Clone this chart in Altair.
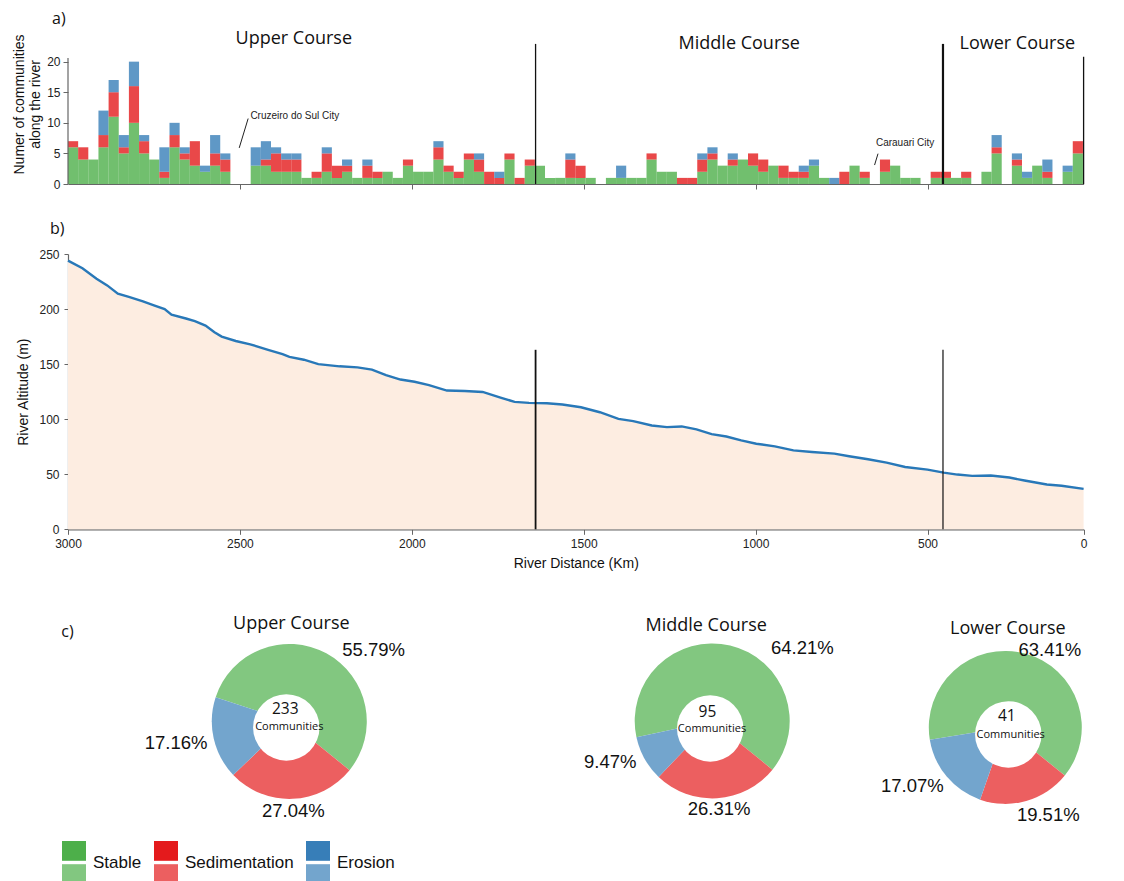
import math
import altair as alt
import pandas as pd

# ---------------- data ----------------
CATEGORIES = ["Stable", "Sedimentation", "Erosion"]
SET1 = ["#4daf4a", "#e41a1c", "#377eb8"]
PIE_COLORS = ["#82c780", "#ec5f60", "#73a5cd"]

# a) communities per 100 bins along the river (upstream -> downstream)
STABLE_COUNTS = [6, 4, 4, 6, 11, 5, 10, 5, 4, 1, 6, 4, 3, 2, 3, 2, 0, 0, 3, 3,
                 2, 2, 2, 1, 1, 2, 1, 2, 1, 1, 1, 2, 1, 3, 2, 2, 4, 2, 1, 4,
                 2, 0, 0, 4, 0, 3, 3, 1, 1, 1, 1, 1, 0, 1, 1, 1, 1, 4, 2, 2,
                 0, 0, 2, 4, 3, 3, 4, 3, 2, 3, 1, 1, 1, 3, 1, 0, 0, 3, 1, 0,
                 2, 3, 1, 1, 0, 1, 1, 1, 1, 0, 2, 5, 0, 3, 1, 3, 1, 0, 2, 5]
SEDIMENTATION_COUNTS = [1, 2, 0, 2, 4, 1, 6, 2, 0, 1, 2, 1, 4, 0, 2, 2, 0, 0, 0, 1,
                        3, 2, 2, 0, 1, 3, 2, 1, 0, 2, 1, 0, 0, 1, 0, 0, 2, 1, 1, 1,
                        2, 2, 1, 1, 1, 1, 0, 0, 0, 3, 2, 0, 0, 0, 0, 0, 0, 1, 0, 0,
                        1, 1, 2, 1, 0, 1, 0, 2, 2, 0, 2, 1, 1, 0, 0, 0, 2, 0, 1, 0,
                        2, 0, 0, 0, 0, 1, 1, 0, 1, 0, 0, 1, 0, 1, 0, 0, 1, 0, 0, 2]
EROSION_COUNTS = [0, 0, 0, 4, 2, 2, 4, 1, 0, 4, 2, 1, 0, 1, 3, 1, 0, 0, 3, 3,
                  1, 1, 1, 0, 0, 1, 0, 1, 0, 1, 0, 0, 0, 0, 0, 0, 1, 0, 0, 0,
                  1, 0, 1, 0, 0, 0, 0, 0, 0, 1, 0, 0, 0, 0, 2, 0, 0, 0, 0, 0,
                  0, 0, 1, 1, 0, 1, 0, 0, 0, 0, 0, 0, 1, 1, 0, 1, 0, 0, 0, 0,
                  0, 0, 0, 0, 0, 0, 0, 0, 0, 0, 0, 2, 0, 1, 1, 0, 2, 0, 1, 0]
BIN_FROM_KM = 3000
BIN_TO_KM = 48
X_DOMAIN = [3000, 46]

# b) longitudinal profile
RIVER_KM = [3000, 2958, 2917, 2886, 2855, 2823, 2782, 2750, 2719, 2699, 2657, 2631,
            2600, 2574, 2553, 2512, 2470, 2418, 2376, 2356, 2314, 2272, 2210, 2158,
            2116, 2075, 2033, 1992, 1950, 1898, 1846, 1794, 1742, 1701, 1659, 1607,
            1562, 1508, 1453, 1399, 1356, 1302, 1258, 1215, 1172, 1128, 1085, 1042,
            998, 944, 890, 836, 771, 728, 673, 619, 565, 500, 453, 413, 370, 316,
            262, 218, 153, 110, 46]
RIVER_ALT = [244, 237, 227.5, 221.5, 214, 211, 207, 203.4, 200, 195, 191.4, 189,
             185, 179, 175, 171, 168, 163, 159, 156.5, 154, 150, 148, 147,
             145, 140, 136, 134, 131, 126, 125.6, 124.7, 119.6, 115.7, 114.8, 114.5,
             113.3, 110.8, 106.3, 100.3, 98.2, 94.3, 92.8, 93.4, 90.7, 86.4, 84.3, 80.7,
             77.7, 75.3, 71.7, 70.2, 68.7, 66.3, 63.6, 60.5, 56.6, 54.2, 51.5, 49.7, 48.5, 48.8,
             47, 44.3, 40.7, 39.5, 36.7]

COURSES = ["Upper Course", "Middle Course", "Lower Course"]
COURSE_LIMITS_KM = [3000, 1640, 455, 46]

CITIES = ["Cruzeiro do Sul City", "Carauari City"]
CITY_KM = [2502, 654]

# c) share of communities per course
COMMUNITIES = [233, 95, 41]
PCT_STABLE = [55.79, 64.21, 63.41]
PCT_SEDIMENTATION = [27.04, 26.31, 19.51]
PCT_EROSION = [17.16, 9.47, 17.07]

PANEL_TAGS = ["a)", "b)", "c)"]

# ---------------- layout ----------------
PLOT_W = 1015.6
A_H = 150
B_H = 275.3
GAP = 70
PIE_W = [442.6, 402.4, 182.6]
PIE_H = [242.8, 241.8, 254.8]
OUTER_R = [77.5, 77.5, 76.5]
HOLE_R = 37.5
HOLE_SHIFT = [(-3, 6), (-2, 7.5), (3, 7)]
TITLE_NUDGE = [(2, -97.4), (-6, -95.2), (2.5, -98.4)]
NUM_NUDGE = [(-4, -12), (-4.8, -9), (1.5, -11)]
COMM_NUDGE = [(0, 6), (-0.2, 8), (5.4, 7.3)]
LABEL_R = 100
LABEL_NUDGE = [
    {"Stable": (36.6, 16.2), "Sedimentation": (0, -9.9), "Erosion": (-15.7, -0.5)},
    {"Stable": (67, 24.8), "Sedimentation": (0.5, -11.8), "Erosion": (-14.7, -7.3)},
    {"Stable": (19, 19.5), "Sedimentation": (15.6, -8.9), "Erosion": (-16.4, -5.3)},
]
PIE_START = math.radians(129)
COURSE_LABEL = [(-8, 23.65), (0, 22.85), (4, 22.85)]
CITY_LEADER = {
    "Cruzeiro do Sul City": dict(y0=5.9, dkm=-26, y1=10.7, tdkm=-32.5, ty=11.17),
    "Carauari City": dict(y0=3.1, dkm=-10, y1=4.96, tdkm=-4, ty=6.64),
}
TAG_A = dict(y=26.15, dx=-16)     # data units above the plot, pixel nudge
TAG_B = dict(y=268.2, dx=-18)
TAG_C = dict(dx=-228, dy=-84)

TEXT_FONT = "Open Sans"
NUM_FONT = "Liberation Sans"

legend_common = dict(orient="none", direction="horizontal", title=None, symbolSize=576,
                     symbolStrokeWidth=0, symbolOpacity=1, labelFont=NUM_FONT,
                     labelFontSize=17, labelColor="#111", labelOffset=7,
                     columnPadding=12, padding=0, legendX=-6)
LEG_DARK = alt.Legend(symbolType="M-1,-1.75H1V-0.1H-1Z", labelOpacity=0,
                      legendY=816, **legend_common)
LEG_LIGHT = alt.Legend(symbolType="M-1,0.1H1V1.75H-1Z", legendY=251, **legend_common)

# ---------------- panel a ----------------
n_bins = len(STABLE_COUNTS)
bw = (BIN_FROM_KM - BIN_TO_KM) / n_bins
rows = []
for i in range(n_bins):
    for k, (cat, arr) in enumerate(zip(CATEGORIES, [STABLE_COUNTS, SEDIMENTATION_COUNTS, EROSION_COUNTS])):
        if arr[i] > 0:
            rows.append({"bin": i, "cat": cat, "k": k, "n": arr[i],
                         "km0": BIN_FROM_KM - i * bw, "km1": BIN_FROM_KM - (i + 1) * bw})
bars_df = pd.DataFrame(rows)

xs_a = alt.Scale(domain=X_DOMAIN, nice=False, zero=False)
ys_a = alt.Scale(domain=[0, 24.52], nice=False)
ax_a = alt.Axis(values=[2500, 2000, 1500, 1000, 500], labels=False, tickSize=5,
                title=None, grid=False)
ay_a = alt.Axis(values=[0, 5, 10, 15, 20], domain=False, tickSize=5, labelPadding=3,
                title=["Numer of communities", "along the river"], titleLineHeight=16,
                titlePadding=4, titleY=70, grid=False)


def XA(f):
    return alt.X(f, type="quantitative", scale=xs_a, axis=ax_a)


def YA(f):
    return alt.Y(f, type="quantitative", scale=ys_a, axis=ay_a)


bars = alt.Chart(bars_df).transform_stack(
    stack="n", groupby=["bin"], as_=["y0", "y1"], sort=[alt.SortField("k", order="ascending")]
).mark_rect(opacity=0.8).encode(
    x=XA("km0"), x2="km1:Q", y=YA("y0"), y2="y1:Q",
    color=alt.Color("cat:N", scale=alt.Scale(domain=CATEGORIES, range=SET1), legend=LEG_DARK),
)

y_line = alt.Chart(pd.DataFrame({"km": [X_DOMAIN[0]], "lo": [0], "hi": [20.6]})).mark_rule(
    color="#666", strokeWidth=1.2).encode(x=XA("km"), y=YA("lo"), y2="hi:Q")


def vrule_a(km, hi, width):
    return alt.Chart(pd.DataFrame({"km": [km], "lo": [0], "hi": [hi]})).mark_rule(
        color="#111", strokeWidth=width).encode(x=XA("km"), y=YA("lo"), y2="hi:Q")


rules_a = [vrule_a(COURSE_LIMITS_KM[1], 22.9, 1.3),
           vrule_a(COURSE_LIMITS_KM[2], 22.9, 2.2),
           vrule_a(COURSE_LIMITS_KM[3], 20.8, 1.3)]

course_df = pd.DataFrame({
    "course": COURSES,
    "mid": [(a + b) / 2 for a, b in zip(COURSE_LIMITS_KM[:-1], COURSE_LIMITS_KM[1:])],
})
course_texts = []
for c, (cdx, cy) in zip(COURSES, COURSE_LABEL):
    course_texts.append(
        alt.Chart(course_df).transform_filter(alt.datum.course == c)
        .transform_calculate(ly=str(cy))
        .mark_text(font=TEXT_FONT, fontSize=18, color="#111", dx=cdx)
        .encode(x=XA("mid"), y=YA("ly"), text="course:N")
    )

city_df = pd.DataFrame({"city": CITIES, "km": CITY_KM})
for key in ["y0", "dkm", "y1", "tdkm", "ty"]:
    city_df[key] = [CITY_LEADER[c][key] for c in CITIES]
city_df["km_top"] = city_df["km"] + city_df["dkm"]
city_df["km_txt"] = city_df["km"] + city_df["tdkm"]

leaders = alt.Chart(city_df).mark_rule(color="#222", strokeWidth=1).encode(
    x=XA("km"), x2="km_top:Q", y=YA("y0"), y2="y1:Q")
city_texts = alt.Chart(city_df).mark_text(font=NUM_FONT, fontSize=10, color="#222",
                                          align="left").encode(
    x=XA("km_txt"), y=YA("ty"), text="city:N")

tag_a = alt.Chart(pd.DataFrame({"t": [PANEL_TAGS[0]]})).transform_calculate(
    tx=str(X_DOMAIN[0]), ty=str(TAG_A["y"])
).mark_text(font=TEXT_FONT, fontSize=16, color="#111", align="left",
            baseline="alphabetic", dx=TAG_A["dx"]).encode(x=XA("tx"), y=YA("ty"), text="t:N")

panel_a = alt.layer(bars, y_line, *rules_a, *course_texts, leaders, city_texts, tag_a).properties(
    width=PLOT_W, height=A_H)

# ---------------- panel b ----------------
prof = pd.DataFrame({"km": RIVER_KM, "alt": RIVER_ALT})
xs_b = alt.Scale(domain=X_DOMAIN, nice=False, zero=False)
ys_b = alt.Scale(domain=[0, 250], nice=False)
ax_b = alt.Axis(values=[3000, 2500, 2000, 1500, 1000, 500, X_DOMAIN[1]],
                labelExpr="datum.value < 100 ? '0' : format(datum.value, 'd')",
                title="River Distance (Km)", tickSize=5, labelPadding=4, titlePadding=7,
                labelFlush=False, labelOverlap=False, grid=False)
ay_b = alt.Axis(values=[0, 50, 100, 150, 200, 250], title="River Altitude (m)", tickSize=4,
                labelPadding=5, titlePadding=8, grid=False)


def XB(f):
    return alt.X(f, type="quantitative", scale=xs_b, axis=ax_b)


def YB(f):
    return alt.Y(f, type="quantitative", scale=ys_b, axis=ay_b)


area = alt.Chart(prof).mark_area(color="#fdede1").encode(x=XB("km"), y=YB("alt"))
line = alt.Chart(prof).mark_line(color="#2878b8", strokeWidth=2.4).encode(x=XB("km"), y=YB("alt"))


def vrule_b(km, width):
    return alt.Chart(pd.DataFrame({"km": [km], "lo": [0], "hi": [163]})).mark_rule(
        color="#111", strokeWidth=width).encode(x=XB("km"), y=YB("lo"), y2="hi:Q")


tag_b = alt.Chart(pd.DataFrame({"t": [PANEL_TAGS[1]]})).transform_calculate(
    tx=str(X_DOMAIN[0]), ty=str(TAG_B["y"])
).mark_text(font=TEXT_FONT, fontSize=16, color="#111", align="left",
            baseline="alphabetic", dx=TAG_B["dx"]).encode(x=XB("tx"), y=YB("ty"), text="t:N")

panel_b = alt.layer(area, line, vrule_b(COURSE_LIMITS_KM[1], 1.8),
                    vrule_b(COURSE_LIMITS_KM[2], 1.2), tag_b).properties(
    width=PLOT_W, height=B_H)

# ---------------- panel c ----------------
theta_scale = alt.Scale(domain=[0, 100], range=[PIE_START, PIE_START + 2 * math.pi])
pie_order = {"Sedimentation": 0, "Erosion": 1, "Stable": 2}
pies = []
for i, course in enumerate(COURSES):
    W, H = PIE_W[i], PIE_H[i]
    df = pd.DataFrame({
        "cat": CATEGORIES,
        "pct": [PCT_STABLE[i], PCT_SEDIMENTATION[i], PCT_EROSION[i]],
    })
    df["k"] = df["cat"].map(pie_order)
    df["label"] = df["pct"].map(lambda p: f"{p:.2f}%")
    base = alt.Chart(df).transform_stack(
        stack="pct", groupby=[], as_=["s0", "s1"], sort=[alt.SortField("k", order="ascending")]
    ).transform_calculate(mid="(datum.s0 + datum.s1) / 2")
    arc = base.mark_arc(outerRadius=OUTER_R[i], innerRadius=0).encode(
        theta=alt.Theta("s0:Q", stack=None, scale=theta_scale),
        theta2="s1:Q",
        color=alt.Color("cat:N", scale=alt.Scale(domain=CATEGORIES, range=PIE_COLORS),
                        legend=LEG_LIGHT),
    )
    hx, hy = HOLE_SHIFT[i]
    hole = alt.Chart(pd.DataFrame({"h": [0]})).mark_circle(
        size=math.pi * HOLE_R ** 2, color="white", opacity=1).encode(
        x=alt.value(W / 2 + hx), y=alt.value(H / 2 + hy))
    labels = []
    for cat in CATEGORIES:
        ldx, ldy = LABEL_NUDGE[i][cat]
        labels.append(
            base.transform_filter(alt.datum.cat == cat).mark_text(
                radius=LABEL_R, dx=ldx, dy=ldy, font=NUM_FONT, fontSize=18.5, color="#111")
            .encode(theta=alt.Theta("mid:Q", stack=None, scale=theta_scale), text="label:N")
        )
    info = pd.DataFrame({"course": [course], "n": [str(COMMUNITIES[i])], "unit": ["Communities"]})
    tdx, tdy = TITLE_NUDGE[i]
    ndx, ndy = NUM_NUDGE[i]
    cdx, cdy = COMM_NUDGE[i]
    title_t = alt.Chart(info).mark_text(font=TEXT_FONT, fontSize=18, color="#111",
                                        dx=tdx, dy=tdy).encode(text="course:N")
    num_t = alt.Chart(info).mark_text(font=TEXT_FONT, fontSize=15.5, color="#111",
                                      dx=ndx, dy=ndy).encode(text="n:N")
    comm_t = alt.Chart(info).mark_text(font=TEXT_FONT, fontSize=11, color="#111",
                                       dx=cdx, dy=cdy).encode(text="unit:N")
    layers = [arc, hole, *labels, title_t, num_t, comm_t]
    if i == 0:
        layers.append(
            alt.Chart(pd.DataFrame({"t": [PANEL_TAGS[2]]})).mark_text(
                font=TEXT_FONT, fontSize=16, color="#111", align="left",
                baseline="alphabetic", dx=TAG_C["dx"], dy=TAG_C["dy"]).encode(text="t:N"))
    pies.append(alt.layer(*layers).properties(width=W, height=H))

panel_c = alt.hconcat(*pies, spacing=0, bounds="flush")

chart = alt.vconcat(panel_a, panel_b, panel_c, spacing=GAP, bounds="flush").resolve_scale(
    color="independent"
).properties(
    padding={"left": 4, "top": 3, "right": 2, "bottom": 0}
).configure_view(stroke=None).configure_axis(
    labelFont=NUM_FONT, labelFontSize=12, labelColor="#222",
    titleFont=NUM_FONT, titleFontSize=14, titleFontWeight="normal", titleColor="#111",
    domainColor="#666", tickColor="#666", domainWidth=1.2, grid=False,
)

chart.save("out.html", embed_options={"renderer": "svg", "actions": False})
